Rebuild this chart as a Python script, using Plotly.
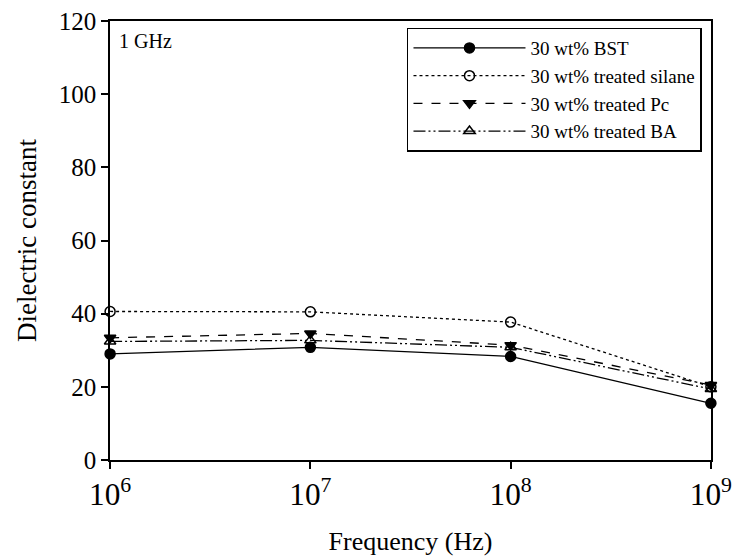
import plotly.graph_objects as go

freq = [1e6, 1e7, 1e8, 1e9]
bst = [29.0, 30.8, 28.3, 15.5]
silane = [40.6, 40.5, 37.7, 20.0]
pc = [33.4, 34.6, 31.4, 20.5]
ba = [32.4, 32.7, 30.8, 19.4]

series_names = ["30 wt% BST", "30 wt% treated silane", "30 wt% treated Pc", "30 wt% treated BA"]
y_ticks = [0, 20, 40, 60, 80, 100, 120]

font_family = "Liberation Serif"

styles = [
    dict(dash="solid", symbol="circle"),
    dict(dash="dot", symbol="circle-open"),
    dict(dash="dash", symbol="triangle-down"),
    dict(dash="12px,3px,2px,3px,2px,3px", symbol="triangle-up-open"),
]

fig = go.Figure()
for name, vals, st in zip(series_names, [bst, silane, pc, ba], styles):
    fig.add_trace(go.Scatter(
        x=freq, y=vals, name=name, mode="lines+markers",
        line=dict(color="black", width=1.3, dash=st["dash"]),
        marker=dict(symbol=st["symbol"], size=10, color="black",
                    line=dict(color="black", width=1.5)),
        cliponaxis=False,
    ))

fig.add_annotation(x=0.012, y=0.985, xref="paper", yref="paper", text="1 GHz",
                   showarrow=False, xanchor="left", yanchor="top",
                   font=dict(family=font_family, size=20, color="black"))

fig.update_layout(
    width=732, height=556,
    margin=dict(l=110, r=21, t=21, b=96),
    paper_bgcolor="white", plot_bgcolor="white",
    font=dict(family=font_family, color="black", size=20),
    showlegend=True,
    legend=dict(x=0.985, y=0.985, xanchor="right", yanchor="top",
                bordercolor="black", borderwidth=1.5, bgcolor="white",
                font=dict(family=font_family, size=19, color="black"),
                tracegroupgap=0, itemwidth=112),
)
fig.update_xaxes(
    type="log", range=[5.9995, 9.0005], dtick=1, tick0=0, exponentformat="power",
    showline=True, linecolor="black", linewidth=1.5, mirror=True,
    ticks="outside", ticklen=7, tickcolor="black", tickwidth=1.5,
    showgrid=False, zeroline=False, automargin=False, ticklabeloverflow="allow",
    tickfont=dict(family=font_family, size=25, color="black"),
    title=dict(text="Frequency (Hz)", font=dict(family=font_family, size=26, color="black"), standoff=22),
)
fig.update_yaxes(
    range=[0, 120], tickvals=y_ticks,
    showline=True, linecolor="black", linewidth=1.5, mirror=True,
    ticks="outside", ticklen=7, tickcolor="black", tickwidth=1.5,
    showgrid=False, zeroline=False, automargin=False,
    tickfont=dict(family=font_family, size=25, color="black"),
    title=dict(text="Dielectric constant", font=dict(family=font_family, size=27, color="black"), standoff=14),
)

fig.write_html("out.html")
